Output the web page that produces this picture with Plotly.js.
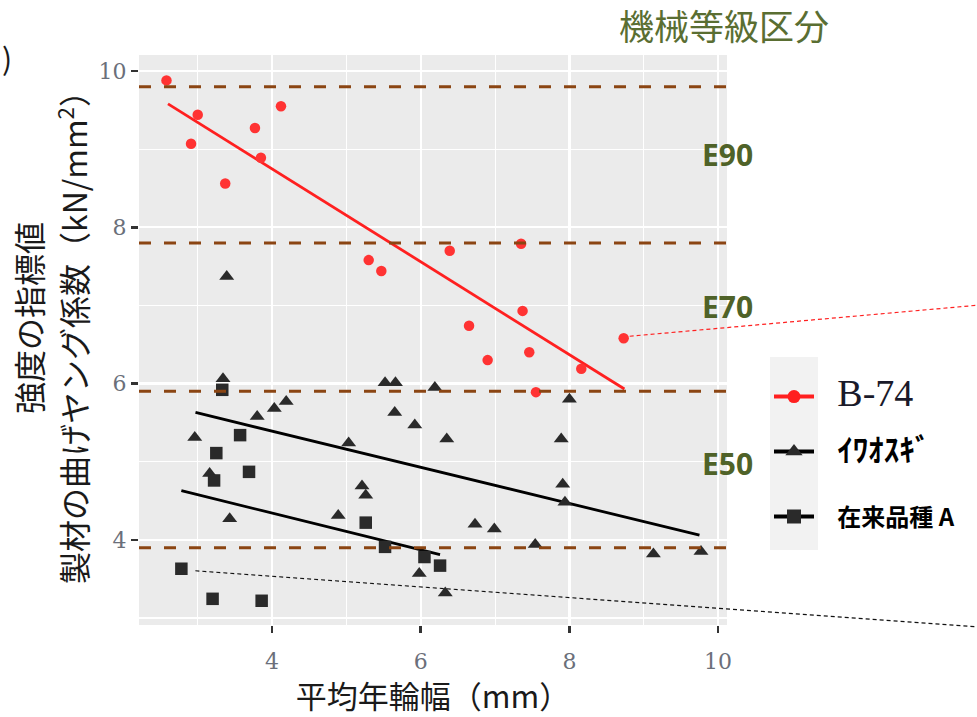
<!DOCTYPE html>
<html>
<head>
<meta charset="utf-8">
<script src="https://cdn.plot.ly/plotly-3.0.1.min.js"></script>
<style>html,body{margin:0;padding:0;background:#fff;}#chart{width:977px;height:717px;}</style>
</head>
<body>
<div id="chart"></div>
<script>
// ---- data ----
const b74X = [2.58, 3.00, 2.91, 3.37, 3.77, 3.85, 4.12, 5.30, 5.47, 6.39, 7.35, 7.37, 6.65, 6.90, 7.46, 7.55, 8.16, 8.73];
const b74Y = [9.88, 9.44, 9.07, 8.56, 9.27, 8.89, 9.55, 7.58, 7.44, 7.70, 7.79, 6.93, 6.74, 6.30, 6.40, 5.89, 6.19, 6.58];

const iwaX = [3.39, 3.34, 2.96, 3.16, 3.43, 3.80, 4.03, 4.19, 4.89, 5.03, 5.52, 5.66, 6.19, 5.65, 5.92, 6.35, 5.21, 5.26, 6.73, 6.99, 7.54, 5.98, 6.33, 8.00, 7.89, 7.91, 7.94, 9.13, 9.77];
const iwaY = [7.37, 6.06, 5.31, 4.85, 4.27, 5.58, 5.68, 5.77, 4.31, 5.24, 6.01, 6.01, 5.95, 5.63, 5.47, 5.29, 4.69, 4.57, 4.20, 4.14, 3.94, 3.57, 3.32, 5.80, 5.29, 4.71, 4.48, 3.82, 3.85];

const zaiX = [3.33, 3.57, 3.25, 3.69, 3.22, 2.78, 3.20, 3.86, 5.26, 5.52, 6.05, 6.26];
const zaiY = [5.92, 5.34, 5.11, 4.87, 4.76, 3.63, 3.245, 3.22, 4.22, 3.91, 3.78, 3.67];

// regression lines (end points)
const b74FitX = [2.60, 8.74];
const b74FitY = [9.58, 5.93];
const iwaFitX = [2.97, 9.75];
const iwaFitY = [5.63, 4.06];
const zaiFitX = [2.78, 6.26];
const zaiFitY = [4.63, 3.81];

// machine grade boundaries and labels
const gradeLines = [9.8, 7.8, 5.9, 3.9];
const gradeLabels = ['E90', 'E70', 'E50'];
const gradeLabelY = [8.93, 6.99, 4.98];

const seriesNames = ['B-74', 'ｲﾜｵｽｷﾞ', '在来品種 A'];
const xTicks = [4, 6, 8, 10];
const yTicks = [4, 6, 8, 10];
const xRange = [2.21, 10.12];
const yRange = [2.91, 10.205];

// ---- layout constants ----
const W = 977, H = 717;
const M = {l: 139, r: 250, t: 55, b: 92};
const plotW = W - M.l - M.r, plotH = H - M.t - M.b;
const px2paperX = p => (p - M.l) / plotW;
const px2paperY = p => (H - M.b - p) / plotH;
const dataPaperX = x => (x - xRange[0]) / (xRange[1] - xRange[0]);
const dataPaperY = y => (y - yRange[0]) / (yRange[1] - yRange[0]);

const RED = '#ff2020', PTRED = '#ff3333', DARK = '#2a2a2a', BROWN = '#8b4513', OLIVE = '#4f6228';
const PAD = '<span style="font-family:Liberation Sans;font-size:22px">\u00a0\u00a0\u00a0</span>';

const traces = [
  {x: b74FitX, y: b74FitY, mode: 'lines', line: {color: RED, width: 2.8}, showlegend: false, hoverinfo: 'skip'},
  {x: iwaFitX, y: iwaFitY, mode: 'lines', line: {color: '#000', width: 2.8}, showlegend: false, hoverinfo: 'skip'},
  {x: zaiFitX, y: zaiFitY, mode: 'lines', line: {color: '#000', width: 2.8}, showlegend: false, hoverinfo: 'skip'},
  {x: b74X, y: b74Y, mode: 'markers', marker: {symbol: 'circle', size: 10.5, color: PTRED}, showlegend: false},
  {x: iwaX, y: iwaY, mode: 'markers', marker: {symbol: 'triangle-up', size: 13, color: DARK}, showlegend: false},
  {x: zaiX, y: zaiY, mode: 'markers', marker: {symbol: 'square', size: 12.5, color: DARK}, showlegend: false},
  // legend keys (one legend per row so each row sits where the reference has it)
  {x: [null], y: [null], mode: 'lines+markers', legend: 'legend',
   name: PAD + '<span style="font-family:Liberation Serif;font-size:38px;color:#1a1a2a">' + seriesNames[0] + '</span>',
   line: {color: RED, width: 4}, marker: {symbol: 'circle', size: 13, color: RED}},
  {x: [null], y: [null], mode: 'lines+markers', legend: 'legend2',
   name: PAD + '<b><span style="font-family:Noto Sans CJK JP;font-size:31px;color:#000">' + seriesNames[1] + '</span></b>',
   line: {color: '#000', width: 4}, marker: {symbol: 'triangle-up', size: 15, color: DARK}},
  {x: [null], y: [null], mode: 'lines+markers', legend: 'legend3',
   name: PAD + '<b><span style="font-family:Noto Sans CJK JP;font-size:24px;color:#000">' + seriesNames[2] + '</span></b>',
   line: {color: '#000', width: 4}, marker: {symbol: 'square', size: 14, color: DARK}}
];

const shapes = [];
gradeLines.forEach(v => shapes.push({
  type: 'line', xref: 'paper', yref: 'y', x0: 0, x1: 1, y0: v, y1: v, layer: 'above',
  line: {color: BROWN, width: 3, dash: '12px,13px'}
}));
// legend key background
shapes.push({type: 'rect', xref: 'paper', yref: 'paper', layer: 'below',
  x0: px2paperX(770), x1: px2paperX(818), y0: px2paperY(550), y1: px2paperY(357),
  fillcolor: '#f2f2f2', line: {width: 0}});
// callout leaders
const b74Call = 17, zaiCall = 5;
shapes.push({type: 'line', xref: 'paper', yref: 'paper', layer: 'above',
  x0: dataPaperX(b74X[b74Call]) + 6 / plotW, y0: dataPaperY(b74Y[b74Call]) + 2 / plotH,
  x1: px2paperX(980), y1: px2paperY(305),
  line: {color: RED, width: 1.2, dash: '4px,3px'}});
shapes.push({type: 'line', xref: 'paper', yref: 'paper', layer: 'above',
  x0: dataPaperX(zaiX[zaiCall]) + 14 / plotW, y0: dataPaperY(zaiY[zaiCall]) - 2 / plotH,
  x1: px2paperX(980), y1: px2paperY(627),
  line: {color: '#111', width: 1.2, dash: '4px,3px'}});

const annotations = [];
gradeLabels.forEach((t, i) => annotations.push({
  text: '<b>' + t + '</b>', xref: 'paper', yref: 'y', x: px2paperX(727), y: gradeLabelY[i],
  xanchor: 'center', yanchor: 'middle', showarrow: false,
  font: {family: 'Open Sans, sans-serif', size: 30, color: OLIVE}
}));
const cjk = 'Noto Sans CJK JP, sans-serif';
annotations.push({text: '強度の指標値', textangle: -90, xref: 'paper', yref: 'paper',
  x: px2paperX(28), y: px2paperY(318), xanchor: 'center', yanchor: 'middle', showarrow: false,
  font: {family: cjk, size: 32, color: '#1a1a1a'}});
annotations.push({text: '製材の曲げヤング係数（kN/mm<sup>2</sup>）', textangle: -90, xref: 'paper', yref: 'paper',
  x: px2paperX(72), y: px2paperY(330), xanchor: 'center', yanchor: 'middle', showarrow: false,
  font: {family: cjk, size: 32, color: '#1a1a1a'}});
annotations.push({text: ')', xref: 'paper', yref: 'paper', x: px2paperX(0), y: px2paperY(57),
  xanchor: 'left', yanchor: 'middle', showarrow: false, font: {family: cjk, size: 30, color: '#1a1a1a'}});

const tickFont = {family: 'DejaVu Serif, serif', size: 22, color: '#6b6f7a'};
const legendBase = {xanchor: 'left', yanchor: 'middle', bgcolor: 'rgba(0,0,0,0)', borderwidth: 0,
  itemwidth: 40, font: {family: cjk, size: 24, color: '#000'}};

const layout = {
  width: W, height: H, margin: M,
  paper_bgcolor: '#ffffff', plot_bgcolor: '#ebebeb',
  font: {family: cjk},
  title: {text: '機械等級区分', xref: 'paper', x: px2paperX(724), xanchor: 'center',
    yref: 'container', y: 1 - 28 / H, yanchor: 'middle',
    font: {family: cjk, size: 35, color: '#5a6e32'}},
  xaxis: {range: xRange, tickvals: xTicks, ticktext: xTicks.map(String), showline: false, zeroline: false,
    ticks: 'outside', ticklen: 7, tickwidth: 2.5, tickcolor: '#333', tickfont: tickFont, ticklabelstandoff: 10,
    showgrid: true, gridcolor: '#ffffff', gridwidth: 2.2,
    minor: {dtick: 1, tick0: 0, showgrid: true, gridcolor: '#ffffff', gridwidth: 1.1, ticks: ''},
    title: {text: '平均年輪幅（mm）', font: {family: cjk, size: 31, color: '#1a1a1a'}, standoff: 8}},
  yaxis: {range: yRange, tickvals: yTicks, ticktext: yTicks.map(String), showline: false, zeroline: false,
    ticks: 'outside', ticklen: 7, tickwidth: 2.5, tickcolor: '#333', tickfont: tickFont,
    showgrid: true, gridcolor: '#ffffff', gridwidth: 2.2,
    minor: {dtick: 1, tick0: 0, showgrid: true, gridcolor: '#ffffff', gridwidth: 1.1, ticks: ''}},
  showlegend: true,
  legend: Object.assign({}, legendBase, {x: px2paperX(769), y: px2paperY(397)}),
  legend2: Object.assign({}, legendBase, {x: px2paperX(769), y: px2paperY(452)}),
  legend3: Object.assign({}, legendBase, {x: px2paperX(769), y: px2paperY(517)}),
  shapes: shapes, annotations: annotations
};

Plotly.newPlot('chart', traces, layout, {staticPlot: true, displayModeBar: false});
</script>
</body>
</html>
